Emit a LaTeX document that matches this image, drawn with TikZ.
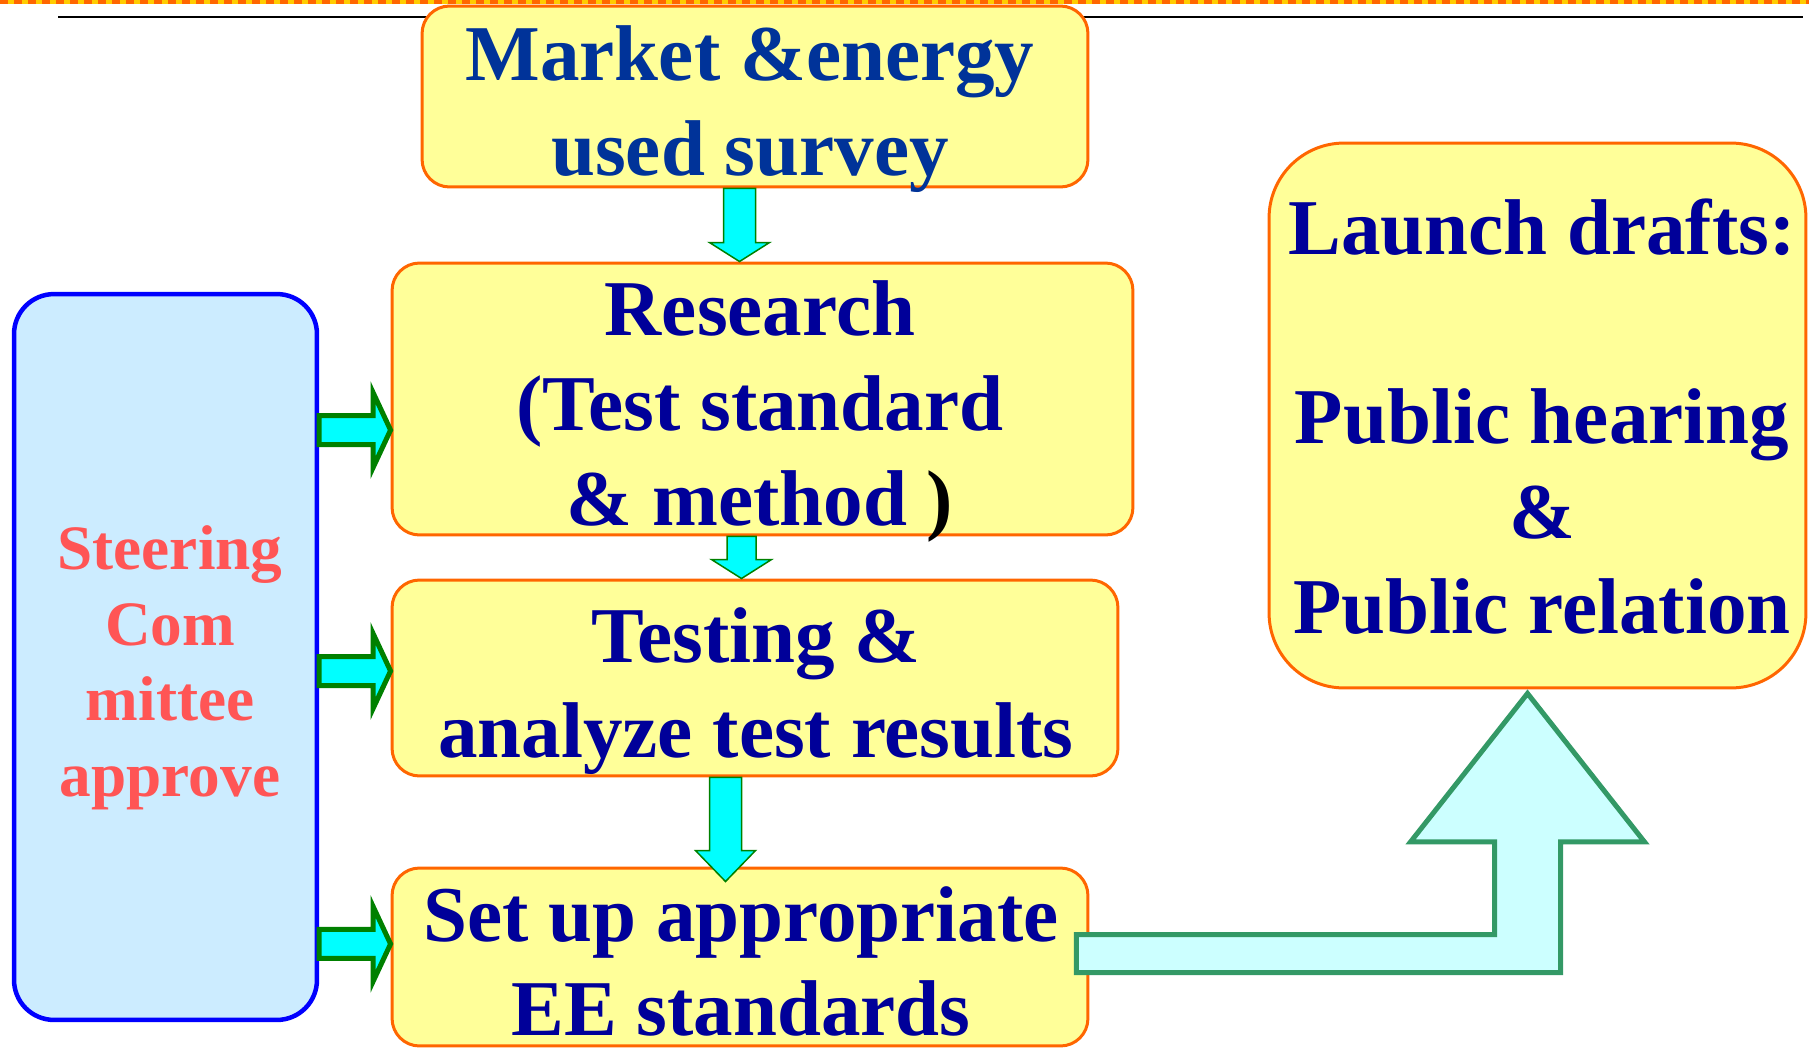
\documentclass[tikz,border=0pt]{standalone}
\usepackage{fontspec}
\setmainfont{Liberation Serif}
\usetikzlibrary{calc}

\definecolor{boxfill}{RGB}{255,255,153}
\definecolor{boxline}{RGB}{255,102,0}
\definecolor{navy}{RGB}{0,0,153}
\definecolor{marketblue}{RGB}{0,51,153}
\definecolor{steerfill}{RGB}{204,236,255}
\definecolor{steerred}{RGB}{255,85,85}
\definecolor{arrowgreen}{RGB}{0,128,0}
\definecolor{arrowcyan}{RGB}{0,255,255}
\definecolor{bigfill}{RGB}{204,255,255}
\definecolor{bigline}{RGB}{51,153,102}
\definecolor{dashyellow}{RGB}{255,204,0}

\begin{document}
\begin{tikzpicture}[x=0.02cm,y=-0.02cm,
	stage/.style={rectangle,rounded corners=0.55cm,fill=boxfill,draw=boxline,line width=0.06cm},
	bigtext/.style={inner sep=0,align=center,text=navy,font={\fontsize{45}{54}\selectfont\bfseries}},
	downarrow/.style n args={3}{fill=arrowcyan,draw=arrowgreen,line width=0.03cm,
		to path={let \p1=(\tikztostart),\p2=(\tikztotarget) in
			(\x1-#1,\y1) -- (\x1-#1,\y2+#3) -- (\x1-#2,\y2+#3) -- (\x1,\y2)
			-- (\x1+#2,\y2+#3) -- (\x1+#1,\y2+#3) -- (\x1+#1,\y1) -- cycle}},
	rightarrow/.style={fill=arrowcyan,draw=arrowgreen,line width=0.1cm,
		to path={let \p1=(\tikztostart),\p2=(\tikztotarget) in
			(\x1,\y1+0.29cm) -- (\x2-0.35cm,\y1+0.29cm) -- (\x2-0.35cm,\y1+0.75cm) -- (\x2,\y1)
			-- (\x2-0.35cm,\y1-0.75cm) -- (\x2-0.35cm,\y1-0.29cm) -- (\x1,\y1-0.29cm) -- cycle}},
	uparrow/.style={fill=bigfill,draw=bigline,line width=0.1cm,
		to path={let \p1=(\tikztostart),\p2=(\tikztotarget) in
			(\x1,\y1+0.38cm) -- (\x2-0.66cm,\y1+0.38cm) -- (\x2-0.66cm,\y2-2.97cm) -- (\x2-2.34cm,\y2-2.97cm)
			-- (\x2,\y2) -- (\x2+2.34cm,\y2-2.97cm) -- (\x2+0.66cm,\y2-2.97cm) -- (\x2+0.66cm,\y1-0.38cm)
			-- (\x1,\y1-0.38cm) -- cycle}}]
	\useasboundingbox (0,0) rectangle (1809,1048);

	% header rules
	\draw[dashyellow,line width=0.1cm] (0,2) -- (1809,2);
	\draw[boxline,line width=0.1cm,dash pattern=on 0.16cm off 0.12cm] (0,2) -- (1809,2);
	\draw[black,line width=0.06cm] (58,17) -- (1803,17);

	% steps
	\node[stage,minimum width=13.32cm,minimum height=3.62cm] (market) at (755,96.5) {};
	\node[stage,minimum width=14.82cm,minimum height=5.44cm] (research) at (762.5,399) {};
	\node[stage,minimum width=14.52cm,minimum height=3.92cm] (testing) at (755,678) {};
	\node[stage,minimum width=13.92cm,minimum height=3.56cm] (setup) at (740,957) {};
	\node[stage,rounded corners=1.5cm,minimum width=10.74cm,minimum height=10.9cm] (launch) at (1537.5,415.5) {};
	\node[rectangle,rounded corners=0.8cm,fill=steerfill,draw=blue,line width=0.09cm,
		minimum width=6.06cm,minimum height=14.52cm] (steer) at (165.5,657) {};

	\node[bigtext,text=marketblue] (markettxt) at (750,109.5) {Market \&energy\\used survey};
	\node[bigtext] (researchtxt) at (760,411.5) {Research\\(Test standard\\\& method \textcolor{black}{)}};
	\node[bigtext] (testingtxt) at (756,691.5) {Testing \&\\analyze test results};
	\node[bigtext] (setuptxt) at (741,961.5) {Set up appropriate\\EE standards};
	\node[bigtext] (launchtxt) at (1542,416.5) {Launch drafts:\\[54pt]Public hearing\\\&\\Public relation};
	\node[inner sep=0,align=center,text=steerred,font={\fontsize{36}{43}\selectfont\bfseries}]
		(steertxt) at (170,668) {Steering\\Com\\mittee\\approve};

	% arrows
	\draw[downarrow={0.32cm}{0.6cm}{0.38cm}] ([xshift=-0.31cm]market.south) to (research.north);
	\draw[downarrow={0.29cm}{0.6cm}{0.38cm}] ([xshift=-0.42cm]research.south) to (testing.north);
	\draw[downarrow={0.32cm}{0.6cm}{0.62cm}] ([xshift=-0.59cm]testing.south) to ([yshift=-0.3cm]setup.north);

	\draw[rightarrow] ([yshift=4.54cm]steer.east) to (research.west);
	\draw[rightarrow] ([yshift=-0.28cm]steer.east) to (testing.west);
	\draw[rightarrow] ([yshift=-5.74cm]steer.east) to (setup.west);

	\draw[uparrow] ([xshift=-0.26cm,yshift=0.07cm]setup.east) to ([xshift=-0.2cm,yshift=-0.08cm]launch.south);
\end{tikzpicture}
\end{document}
